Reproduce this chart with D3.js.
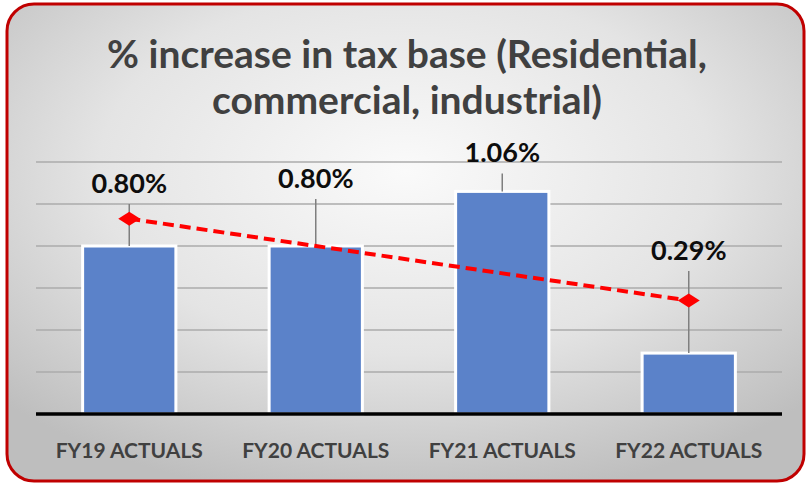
<!DOCTYPE html>
<html>
<head>
<meta charset="utf-8">
<script src="https://cdn.jsdelivr.net/npm/d3@7"></script>
<style>
  body { margin: 0; background: #ffffff; }
</style>
</head>
<body>
<div id="chart"></div>
<script>
const categories = ['FY19 ACTUALS', 'FY20 ACTUALS', 'FY21 ACTUALS', 'FY22 ACTUALS'];
const increase = [0.80, 0.80, 1.06, 0.29];
const trend = [0.93, null, null, 0.54];
const yTicks = [0, 0.2, 0.4, 0.6, 0.8, 1.0, 1.2];

// how high each data label sits, in pixels above its bar top
const labelLift = [53, 58, 29, 93];

const width = 807;
const height = 485;

const svg = d3.select('#chart').append('svg').attr('width', width).attr('height', height);

const defs = svg.append('defs');
const grad = defs.append('radialGradient').attr('id', 'bg').attr('cx', '50%').attr('cy', '35%').attr('r', '70%');
grad.append('stop').attr('offset', '0%').attr('stop-color', '#fafafa');
grad.append('stop').attr('offset', '55%').attr('stop-color', '#e4e4e4');
grad.append('stop').attr('offset', '100%').attr('stop-color', '#bebebe');

svg.append('rect').attr('x', 7).attr('y', 4).attr('width', 797).attr('height', 477)
  .attr('rx', 27).attr('fill', 'url(#bg)').attr('stroke', '#c00000').attr('stroke-width', 3);

// title
const title = svg.append('text').attr('text-anchor', 'middle')
  .style('font-family', 'Lato, sans-serif').style('font-weight', 'bold').style('font-size', '39px').attr('fill', '#404040');
title.append('tspan').attr('x', 407).attr('y', 68).text('% increase in tax base (Residential,');
title.append('tspan').attr('x', 407).attr('y', 114).text('commercial, industrial)');

const x = d3.scaleBand().domain(categories).range([36, 782]).paddingInner(0.5).paddingOuter(0.25);
const y = d3.scaleLinear().domain([0, 1.2]).range([414, 162]);

// gridlines
svg.append('g').selectAll('line').data(yTicks.slice(1)).enter().append('line')
  .attr('x1', 36).attr('x2', 782)
  .attr('y1', d => y(d)).attr('y2', d => y(d))
  .attr('stroke', '#ababab').attr('stroke-width', 1.5);

// bars
svg.append('g').selectAll('rect').data(increase).enter().append('rect')
  .attr('x', (d, i) => x(categories[i]))
  .attr('y', d => y(d))
  .attr('width', x.bandwidth())
  .attr('height', d => y(0) - y(d))
  .attr('fill', '#5b82c9').attr('stroke', '#ffffff').attr('stroke-width', 3);

// baseline
svg.append('line').attr('x1', 36).attr('x2', 782).attr('y1', y(0)).attr('y2', y(0))
  .attr('stroke', '#000000').attr('stroke-width', 3.5);

// x axis labels
const xAxis = d3.axisBottom(x).tickSize(0).tickPadding(29);
const ax = svg.append('g').attr('transform', 'translate(0,' + y(0) + ')').call(xAxis);
ax.select('.domain').remove();
ax.selectAll('text').style('font-family', 'Lato, sans-serif').style('font-weight', 'bold')
  .style('font-size', '21px').attr('fill', '#404040');

// leader lines + data labels
const cx = i => x(categories[i]) + x.bandwidth() / 2;
svg.append('g').selectAll('line').data(increase).enter().append('line')
  .attr('x1', (d, i) => cx(i)).attr('x2', (d, i) => cx(i))
  .attr('y1', (d, i) => y(d) - labelLift[i] + 11).attr('y2', d => y(d))
  .attr('stroke', '#7f7f7f').attr('stroke-width', 1.5);

svg.append('g').selectAll('text').data(increase).enter().append('text')
  .attr('x', (d, i) => cx(i))
  .attr('y', (d, i) => y(d) - labelLift[i])
  .attr('text-anchor', 'middle')
  .style('font-family', 'Lato, sans-serif').style('font-weight', 'bold').style('font-size', '27px')
  .attr('fill', '#0d0d0d')
  .text(d => d.toFixed(2) + '%');

// dashed trend line with diamond markers
const trendPts = trend.map((d, i) => ({ i: i, v: d })).filter(d => d.v !== null);
const line = d3.line().x(d => cx(d.i)).y(d => y(d.v));
svg.append('path').datum(trendPts).attr('d', line)
  .attr('fill', 'none').attr('stroke', '#ff0000').attr('stroke-width', 4).attr('stroke-dasharray', '11,6');

svg.append('g').selectAll('path').data(trendPts).enter().append('path')
  .attr('d', 'M-11,0L0,-7L11,0L0,7Z')
  .attr('transform', d => 'translate(' + cx(d.i) + ',' + y(d.v) + ')')
  .attr('fill', '#ff0000');
</script>
</body>
</html>
